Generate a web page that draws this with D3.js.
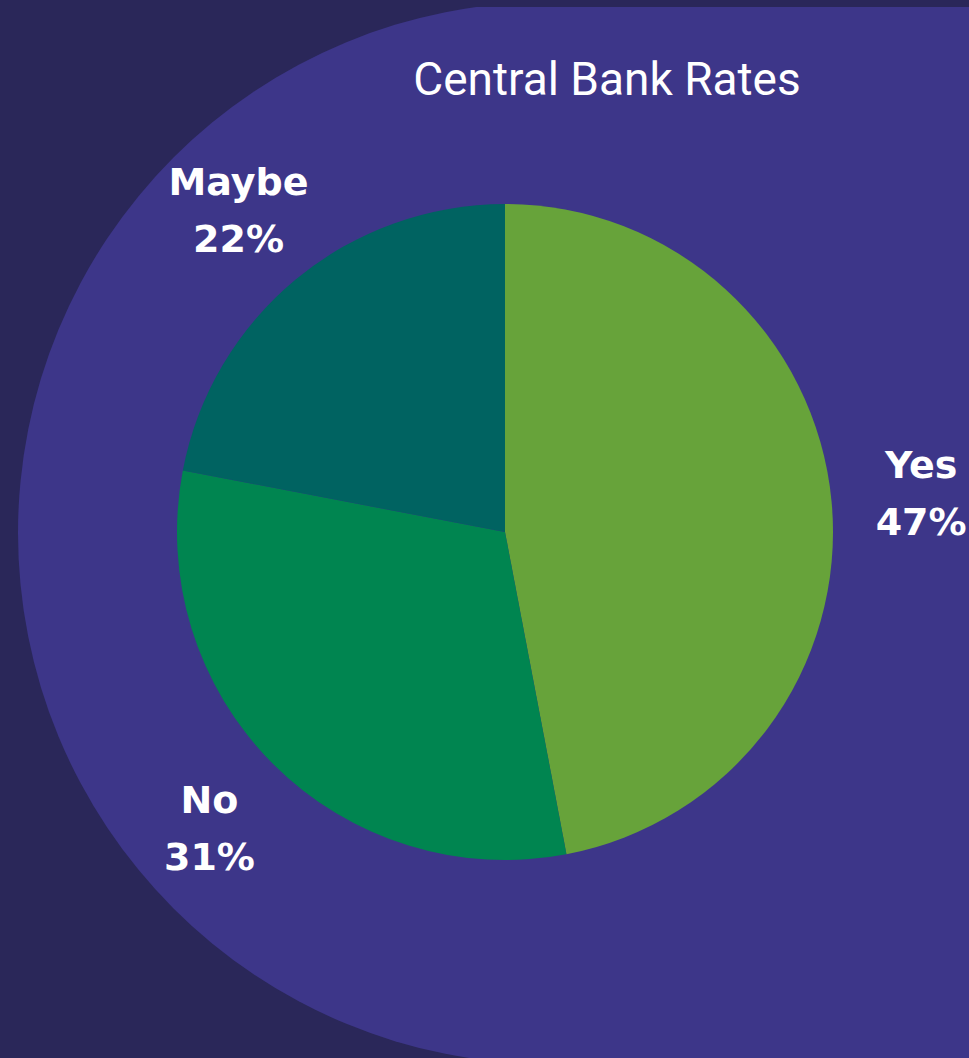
<!DOCTYPE html>
<html>
<head>
<meta charset="utf-8">
<script src="https://cdn.jsdelivr.net/npm/d3@7"></script>
<style>
  html, body { margin: 0; padding: 0; background: #2a2759; }
  svg { display: block; }
</style>
</head>
<body>
<svg id="chart" width="969" height="1058"></svg>
<script>
// Survey answers and their shares (percent)
const categories = ["Yes", "No", "Maybe"];
const shares = [47, 31, 22];
const sliceColors = ["#67a33a", "#008550", "#006361"];
const title = "Central Bank Rates";

const width = 969, height = 1058;
const svg = d3.select("#chart");

// background
svg.append("rect").attr("width", width).attr("height", height).attr("fill", "#2a2759");

// backdrop panel: rounded on the left, running off the right edge, cut flat along the top
const bdX = 549, bdY = 533, bdR = 531, bdTop = 7;
const backdrop = svg.append("g").attr("fill", "#3d3689").attr("clip-path", "url(#backdropClip)");
svg.append("clipPath").attr("id", "backdropClip")
  .append("rect").attr("x", 0).attr("y", bdTop).attr("width", width).attr("height", height);
backdrop.append("circle").attr("cx", bdX).attr("cy", bdY).attr("r", bdR);
backdrop.append("rect").attr("x", bdX).attr("y", bdTop).attr("width", width - bdX).attr("height", height);

// title
svg.append("text")
  .attr("x", 607).attr("y", 95)
  .attr("text-anchor", "middle")
  .attr("fill", "#ffffff")
  .style("font-family", "Roboto, 'Open Sans', sans-serif")
  .style("font-weight", 400)
  .style("font-size", "46px")
  .text(title);

// pie
const cx = 505, cy = 532, radius = 328;
const data = categories.map((c, i) => ({ label: c, value: shares[i], color: sliceColors[i] }));
const pie = d3.pie().value(d => d.value).sort(null);
const arcs = pie(data);
const arc = d3.arc().innerRadius(0).outerRadius(radius);
const labelArc = d3.arc().innerRadius(418).outerRadius(418);

const g = svg.append("g").attr("transform", `translate(${cx},${cy})`);
g.selectAll("path.slice")
  .data(arcs)
  .join("path")
  .attr("class", "slice")
  .attr("d", arc)
  .attr("fill", d => d.data.color);

// category labels with percentages
const labels = g.selectAll("text.lbl")
  .data(arcs)
  .join("text")
  .attr("class", "lbl")
  .attr("text-anchor", "middle")
  .attr("fill", "#ffffff")
  .style("font-family", "'DejaVu Sans', sans-serif")
  .style("font-weight", 700)
  .style("font-size", "38px")
  .attr("transform", d => {
    const [x, y] = labelArc.centroid(d);
    return `translate(${x},${y})`;
  });
labels.append("tspan").attr("x", 0).attr("y", -15).text(d => d.data.label);
labels.append("tspan").attr("x", 0).attr("y", 42).text(d => d.data.value + "%");
</script>
</body>
</html>
